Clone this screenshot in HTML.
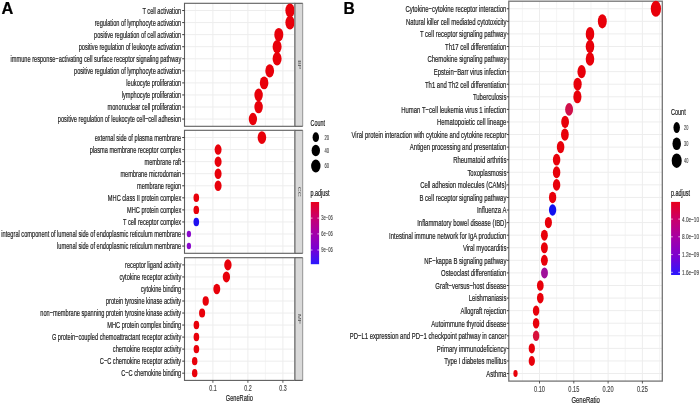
<!DOCTYPE html>
<html><head><meta charset="utf-8"><style>
html,body{margin:0;padding:0;background:#fff;}
svg{display:block;font-family:"Liberation Sans",sans-serif;will-change:transform;}
</style></head><body>
<svg width="699" height="406" viewBox="0 0 699 406">
<rect x="0" y="0" width="699" height="406" fill="#ffffff"/>
<rect x="184.50" y="3.30" width="110.10" height="123.00" fill="#ffffff" stroke="none" stroke-width="0"/>
<line x1="195.40" y1="3.30" x2="195.40" y2="126.30" stroke="#ededed" stroke-width="0.6"/>
<line x1="230.40" y1="3.30" x2="230.40" y2="126.30" stroke="#ededed" stroke-width="0.6"/>
<line x1="265.40" y1="3.30" x2="265.40" y2="126.30" stroke="#ededed" stroke-width="0.6"/>
<line x1="212.90" y1="3.30" x2="212.90" y2="126.30" stroke="#ededed" stroke-width="1.0"/>
<line x1="247.90" y1="3.30" x2="247.90" y2="126.30" stroke="#ededed" stroke-width="1.0"/>
<line x1="282.90" y1="3.30" x2="282.90" y2="126.30" stroke="#ededed" stroke-width="1.0"/>
<line x1="184.50" y1="10.54" x2="294.60" y2="10.54" stroke="#ededed" stroke-width="1.0"/>
<line x1="184.50" y1="22.59" x2="294.60" y2="22.59" stroke="#ededed" stroke-width="1.0"/>
<line x1="184.50" y1="34.65" x2="294.60" y2="34.65" stroke="#ededed" stroke-width="1.0"/>
<line x1="184.50" y1="46.71" x2="294.60" y2="46.71" stroke="#ededed" stroke-width="1.0"/>
<line x1="184.50" y1="58.77" x2="294.60" y2="58.77" stroke="#ededed" stroke-width="1.0"/>
<line x1="184.50" y1="70.83" x2="294.60" y2="70.83" stroke="#ededed" stroke-width="1.0"/>
<line x1="184.50" y1="82.89" x2="294.60" y2="82.89" stroke="#ededed" stroke-width="1.0"/>
<line x1="184.50" y1="94.95" x2="294.60" y2="94.95" stroke="#ededed" stroke-width="1.0"/>
<line x1="184.50" y1="107.01" x2="294.60" y2="107.01" stroke="#ededed" stroke-width="1.0"/>
<line x1="184.50" y1="119.06" x2="294.60" y2="119.06" stroke="#ededed" stroke-width="1.0"/>
<rect x="184.50" y="3.30" width="110.10" height="123.00" fill="none" stroke="#5e5e5e" stroke-width="1.1"/>
<ellipse cx="290.00" cy="10.54" rx="4.65" ry="6.98" fill="#e8000a"/>
<ellipse cx="290.00" cy="22.59" rx="4.65" ry="6.98" fill="#e8000a"/>
<ellipse cx="278.80" cy="34.65" rx="4.51" ry="6.76" fill="#e8000a"/>
<ellipse cx="277.10" cy="46.71" rx="4.49" ry="6.73" fill="#e8000a"/>
<ellipse cx="277.10" cy="58.77" rx="4.49" ry="6.73" fill="#e8000a"/>
<ellipse cx="269.70" cy="70.83" rx="4.39" ry="6.58" fill="#e8000a"/>
<ellipse cx="264.10" cy="82.89" rx="4.31" ry="6.46" fill="#e8000a"/>
<ellipse cx="258.60" cy="94.95" rx="4.23" ry="6.34" fill="#e8000a"/>
<ellipse cx="258.60" cy="107.01" rx="4.23" ry="6.34" fill="#e8000a"/>
<ellipse cx="252.90" cy="119.06" rx="4.14" ry="6.21" fill="#e8000a"/>
<rect x="294.60" y="3.30" width="8.10" height="123.00" fill="#d9d9d9" stroke="none" stroke-width="0"/>
<line x1="295.10" y1="3.30" x2="295.10" y2="126.30" stroke="#7a7a7a" stroke-width="1.0"/>
<line x1="302.70" y1="3.30" x2="302.70" y2="126.30" stroke="#8a8a8a" stroke-width="0.9"/>
<line x1="294.60" y1="3.30" x2="302.70" y2="3.30" stroke="#555555" stroke-width="1.1"/>
<line x1="294.60" y1="126.30" x2="302.70" y2="126.30" stroke="#555555" stroke-width="1.1"/>
<text transform="translate(299.10,64.80) scale(0.62,1) rotate(90)" font-size="7" text-anchor="middle" dominant-baseline="central" fill="#4a4a4a">BP</text>
<line x1="182.20" y1="10.54" x2="184.50" y2="10.54" stroke="#3a3a3a" stroke-width="1.0"/>
<text transform="translate(181.20,13.77) scale(0.6,1)" font-size="9.4" text-anchor="end" fill="#1e1e1e" stroke="#1e1e1e" stroke-width="0.22" font-weight="normal" >T cell activation</text>
<line x1="182.20" y1="22.59" x2="184.50" y2="22.59" stroke="#3a3a3a" stroke-width="1.0"/>
<text transform="translate(181.20,25.83) scale(0.6,1)" font-size="9.4" text-anchor="end" fill="#1e1e1e" stroke="#1e1e1e" stroke-width="0.22" font-weight="normal" >regulation of lymphocyte activation</text>
<line x1="182.20" y1="34.65" x2="184.50" y2="34.65" stroke="#3a3a3a" stroke-width="1.0"/>
<text transform="translate(181.20,37.89) scale(0.6,1)" font-size="9.4" text-anchor="end" fill="#1e1e1e" stroke="#1e1e1e" stroke-width="0.22" font-weight="normal" >positive regulation of cell activation</text>
<line x1="182.20" y1="46.71" x2="184.50" y2="46.71" stroke="#3a3a3a" stroke-width="1.0"/>
<text transform="translate(181.20,49.95) scale(0.6,1)" font-size="9.4" text-anchor="end" fill="#1e1e1e" stroke="#1e1e1e" stroke-width="0.22" font-weight="normal" >positive regulation of leukocyte activation</text>
<line x1="182.20" y1="58.77" x2="184.50" y2="58.77" stroke="#3a3a3a" stroke-width="1.0"/>
<text transform="translate(181.20,62.00) scale(0.6,1)" font-size="9.4" text-anchor="end" fill="#1e1e1e" stroke="#1e1e1e" stroke-width="0.22" font-weight="normal" >immune response−activating cell surface receptor signaling pathway</text>
<line x1="182.20" y1="70.83" x2="184.50" y2="70.83" stroke="#3a3a3a" stroke-width="1.0"/>
<text transform="translate(181.20,74.06) scale(0.6,1)" font-size="9.4" text-anchor="end" fill="#1e1e1e" stroke="#1e1e1e" stroke-width="0.22" font-weight="normal" >positive regulation of lymphocyte activation</text>
<line x1="182.20" y1="82.89" x2="184.50" y2="82.89" stroke="#3a3a3a" stroke-width="1.0"/>
<text transform="translate(181.20,86.12) scale(0.6,1)" font-size="9.4" text-anchor="end" fill="#1e1e1e" stroke="#1e1e1e" stroke-width="0.22" font-weight="normal" >leukocyte proliferation</text>
<line x1="182.20" y1="94.95" x2="184.50" y2="94.95" stroke="#3a3a3a" stroke-width="1.0"/>
<text transform="translate(181.20,98.18) scale(0.6,1)" font-size="9.4" text-anchor="end" fill="#1e1e1e" stroke="#1e1e1e" stroke-width="0.22" font-weight="normal" >lymphocyte proliferation</text>
<line x1="182.20" y1="107.01" x2="184.50" y2="107.01" stroke="#3a3a3a" stroke-width="1.0"/>
<text transform="translate(181.20,110.24) scale(0.6,1)" font-size="9.4" text-anchor="end" fill="#1e1e1e" stroke="#1e1e1e" stroke-width="0.22" font-weight="normal" >mononuclear cell proliferation</text>
<line x1="182.20" y1="119.06" x2="184.50" y2="119.06" stroke="#3a3a3a" stroke-width="1.0"/>
<text transform="translate(181.20,122.30) scale(0.6,1)" font-size="9.4" text-anchor="end" fill="#1e1e1e" stroke="#1e1e1e" stroke-width="0.22" font-weight="normal" >positive regulation of leukocyte cell−cell adhesion</text>
<rect x="184.50" y="130.30" width="110.10" height="123.00" fill="#ffffff" stroke="none" stroke-width="0"/>
<line x1="195.40" y1="130.30" x2="195.40" y2="253.30" stroke="#ededed" stroke-width="0.6"/>
<line x1="230.40" y1="130.30" x2="230.40" y2="253.30" stroke="#ededed" stroke-width="0.6"/>
<line x1="265.40" y1="130.30" x2="265.40" y2="253.30" stroke="#ededed" stroke-width="0.6"/>
<line x1="212.90" y1="130.30" x2="212.90" y2="253.30" stroke="#ededed" stroke-width="1.0"/>
<line x1="247.90" y1="130.30" x2="247.90" y2="253.30" stroke="#ededed" stroke-width="1.0"/>
<line x1="282.90" y1="130.30" x2="282.90" y2="253.30" stroke="#ededed" stroke-width="1.0"/>
<line x1="184.50" y1="137.54" x2="294.60" y2="137.54" stroke="#ededed" stroke-width="1.0"/>
<line x1="184.50" y1="149.59" x2="294.60" y2="149.59" stroke="#ededed" stroke-width="1.0"/>
<line x1="184.50" y1="161.65" x2="294.60" y2="161.65" stroke="#ededed" stroke-width="1.0"/>
<line x1="184.50" y1="173.71" x2="294.60" y2="173.71" stroke="#ededed" stroke-width="1.0"/>
<line x1="184.50" y1="185.77" x2="294.60" y2="185.77" stroke="#ededed" stroke-width="1.0"/>
<line x1="184.50" y1="197.83" x2="294.60" y2="197.83" stroke="#ededed" stroke-width="1.0"/>
<line x1="184.50" y1="209.89" x2="294.60" y2="209.89" stroke="#ededed" stroke-width="1.0"/>
<line x1="184.50" y1="221.95" x2="294.60" y2="221.95" stroke="#ededed" stroke-width="1.0"/>
<line x1="184.50" y1="234.01" x2="294.60" y2="234.01" stroke="#ededed" stroke-width="1.0"/>
<line x1="184.50" y1="246.06" x2="294.60" y2="246.06" stroke="#ededed" stroke-width="1.0"/>
<rect x="184.50" y="130.30" width="110.10" height="123.00" fill="none" stroke="#5e5e5e" stroke-width="1.1"/>
<ellipse cx="261.90" cy="137.54" rx="4.27" ry="6.41" fill="#e8000a"/>
<ellipse cx="218.10" cy="149.59" rx="3.49" ry="5.24" fill="#e8000a"/>
<ellipse cx="218.10" cy="161.65" rx="3.49" ry="5.24" fill="#e8000a"/>
<ellipse cx="218.10" cy="173.71" rx="3.49" ry="5.24" fill="#e8000a"/>
<ellipse cx="218.10" cy="185.77" rx="3.49" ry="5.24" fill="#e8000a"/>
<ellipse cx="196.30" cy="197.83" rx="2.82" ry="4.23" fill="#e8000a"/>
<ellipse cx="196.30" cy="209.89" rx="2.82" ry="4.23" fill="#e8000a"/>
<ellipse cx="196.30" cy="221.95" rx="2.82" ry="4.23" fill="#1f10f0"/>
<ellipse cx="188.90" cy="234.01" rx="2.15" ry="3.22" fill="#8a08cc"/>
<ellipse cx="188.90" cy="246.06" rx="2.15" ry="3.22" fill="#8a08cc"/>
<rect x="294.60" y="130.30" width="8.10" height="123.00" fill="#d9d9d9" stroke="none" stroke-width="0"/>
<line x1="295.10" y1="130.30" x2="295.10" y2="253.30" stroke="#7a7a7a" stroke-width="1.0"/>
<line x1="302.70" y1="130.30" x2="302.70" y2="253.30" stroke="#8a8a8a" stroke-width="0.9"/>
<line x1="294.60" y1="130.30" x2="302.70" y2="130.30" stroke="#555555" stroke-width="1.1"/>
<line x1="294.60" y1="253.30" x2="302.70" y2="253.30" stroke="#555555" stroke-width="1.1"/>
<text transform="translate(299.10,191.80) scale(0.62,1) rotate(90)" font-size="7" text-anchor="middle" dominant-baseline="central" fill="#4a4a4a">CC</text>
<line x1="182.20" y1="137.54" x2="184.50" y2="137.54" stroke="#3a3a3a" stroke-width="1.0"/>
<text transform="translate(181.20,140.77) scale(0.6,1)" font-size="9.4" text-anchor="end" fill="#1e1e1e" stroke="#1e1e1e" stroke-width="0.22" font-weight="normal" >external side of plasma membrane</text>
<line x1="182.20" y1="149.59" x2="184.50" y2="149.59" stroke="#3a3a3a" stroke-width="1.0"/>
<text transform="translate(181.20,152.83) scale(0.6,1)" font-size="9.4" text-anchor="end" fill="#1e1e1e" stroke="#1e1e1e" stroke-width="0.22" font-weight="normal" >plasma membrane receptor complex</text>
<line x1="182.20" y1="161.65" x2="184.50" y2="161.65" stroke="#3a3a3a" stroke-width="1.0"/>
<text transform="translate(181.20,164.89) scale(0.6,1)" font-size="9.4" text-anchor="end" fill="#1e1e1e" stroke="#1e1e1e" stroke-width="0.22" font-weight="normal" >membrane raft</text>
<line x1="182.20" y1="173.71" x2="184.50" y2="173.71" stroke="#3a3a3a" stroke-width="1.0"/>
<text transform="translate(181.20,176.95) scale(0.6,1)" font-size="9.4" text-anchor="end" fill="#1e1e1e" stroke="#1e1e1e" stroke-width="0.22" font-weight="normal" >membrane microdomain</text>
<line x1="182.20" y1="185.77" x2="184.50" y2="185.77" stroke="#3a3a3a" stroke-width="1.0"/>
<text transform="translate(181.20,189.00) scale(0.6,1)" font-size="9.4" text-anchor="end" fill="#1e1e1e" stroke="#1e1e1e" stroke-width="0.22" font-weight="normal" >membrane region</text>
<line x1="182.20" y1="197.83" x2="184.50" y2="197.83" stroke="#3a3a3a" stroke-width="1.0"/>
<text transform="translate(181.20,201.06) scale(0.6,1)" font-size="9.4" text-anchor="end" fill="#1e1e1e" stroke="#1e1e1e" stroke-width="0.22" font-weight="normal" >MHC class II protein complex</text>
<line x1="182.20" y1="209.89" x2="184.50" y2="209.89" stroke="#3a3a3a" stroke-width="1.0"/>
<text transform="translate(181.20,213.12) scale(0.6,1)" font-size="9.4" text-anchor="end" fill="#1e1e1e" stroke="#1e1e1e" stroke-width="0.22" font-weight="normal" >MHC protein complex</text>
<line x1="182.20" y1="221.95" x2="184.50" y2="221.95" stroke="#3a3a3a" stroke-width="1.0"/>
<text transform="translate(181.20,225.18) scale(0.6,1)" font-size="9.4" text-anchor="end" fill="#1e1e1e" stroke="#1e1e1e" stroke-width="0.22" font-weight="normal" >T cell receptor complex</text>
<line x1="182.20" y1="234.01" x2="184.50" y2="234.01" stroke="#3a3a3a" stroke-width="1.0"/>
<text transform="translate(181.20,237.24) scale(0.6,1)" font-size="9.4" text-anchor="end" fill="#1e1e1e" stroke="#1e1e1e" stroke-width="0.22" font-weight="normal" >integral component of lumenal side of endoplasmic reticulum membrane</text>
<line x1="182.20" y1="246.06" x2="184.50" y2="246.06" stroke="#3a3a3a" stroke-width="1.0"/>
<text transform="translate(181.20,249.30) scale(0.6,1)" font-size="9.4" text-anchor="end" fill="#1e1e1e" stroke="#1e1e1e" stroke-width="0.22" font-weight="normal" >lumenal side of endoplasmic reticulum membrane</text>
<rect x="184.50" y="257.70" width="110.10" height="122.70" fill="#ffffff" stroke="none" stroke-width="0"/>
<line x1="195.40" y1="257.70" x2="195.40" y2="380.40" stroke="#ededed" stroke-width="0.6"/>
<line x1="230.40" y1="257.70" x2="230.40" y2="380.40" stroke="#ededed" stroke-width="0.6"/>
<line x1="265.40" y1="257.70" x2="265.40" y2="380.40" stroke="#ededed" stroke-width="0.6"/>
<line x1="212.90" y1="257.70" x2="212.90" y2="380.40" stroke="#ededed" stroke-width="1.0"/>
<line x1="247.90" y1="257.70" x2="247.90" y2="380.40" stroke="#ededed" stroke-width="1.0"/>
<line x1="282.90" y1="257.70" x2="282.90" y2="380.40" stroke="#ededed" stroke-width="1.0"/>
<line x1="184.50" y1="264.92" x2="294.60" y2="264.92" stroke="#ededed" stroke-width="1.0"/>
<line x1="184.50" y1="276.95" x2="294.60" y2="276.95" stroke="#ededed" stroke-width="1.0"/>
<line x1="184.50" y1="288.98" x2="294.60" y2="288.98" stroke="#ededed" stroke-width="1.0"/>
<line x1="184.50" y1="301.01" x2="294.60" y2="301.01" stroke="#ededed" stroke-width="1.0"/>
<line x1="184.50" y1="313.04" x2="294.60" y2="313.04" stroke="#ededed" stroke-width="1.0"/>
<line x1="184.50" y1="325.06" x2="294.60" y2="325.06" stroke="#ededed" stroke-width="1.0"/>
<line x1="184.50" y1="337.09" x2="294.60" y2="337.09" stroke="#ededed" stroke-width="1.0"/>
<line x1="184.50" y1="349.12" x2="294.60" y2="349.12" stroke="#ededed" stroke-width="1.0"/>
<line x1="184.50" y1="361.15" x2="294.60" y2="361.15" stroke="#ededed" stroke-width="1.0"/>
<line x1="184.50" y1="373.18" x2="294.60" y2="373.18" stroke="#ededed" stroke-width="1.0"/>
<rect x="184.50" y="257.70" width="110.10" height="122.70" fill="none" stroke="#5e5e5e" stroke-width="1.1"/>
<ellipse cx="227.90" cy="264.92" rx="3.70" ry="5.55" fill="#e8000a"/>
<ellipse cx="226.40" cy="276.95" rx="3.67" ry="5.51" fill="#e8000a"/>
<ellipse cx="216.80" cy="288.98" rx="3.46" ry="5.19" fill="#e8000a"/>
<ellipse cx="205.70" cy="301.01" rx="3.16" ry="4.75" fill="#e8000a"/>
<ellipse cx="202.10" cy="313.04" rx="3.05" ry="4.57" fill="#e8000a"/>
<ellipse cx="196.40" cy="325.06" rx="2.82" ry="4.23" fill="#e8000a"/>
<ellipse cx="196.40" cy="337.09" rx="2.82" ry="4.23" fill="#e8000a"/>
<ellipse cx="196.40" cy="349.12" rx="2.82" ry="4.23" fill="#e8000a"/>
<ellipse cx="194.70" cy="361.15" rx="2.74" ry="4.11" fill="#e8000a"/>
<ellipse cx="194.70" cy="373.18" rx="2.74" ry="4.11" fill="#e8000a"/>
<rect x="294.60" y="257.70" width="8.10" height="122.70" fill="#d9d9d9" stroke="none" stroke-width="0"/>
<line x1="295.10" y1="257.70" x2="295.10" y2="380.40" stroke="#7a7a7a" stroke-width="1.0"/>
<line x1="302.70" y1="257.70" x2="302.70" y2="380.40" stroke="#8a8a8a" stroke-width="0.9"/>
<line x1="294.60" y1="257.70" x2="302.70" y2="257.70" stroke="#555555" stroke-width="1.1"/>
<line x1="294.60" y1="380.40" x2="302.70" y2="380.40" stroke="#555555" stroke-width="1.1"/>
<text transform="translate(299.10,319.05) scale(0.62,1) rotate(90)" font-size="7" text-anchor="middle" dominant-baseline="central" fill="#4a4a4a">MF</text>
<line x1="182.20" y1="264.92" x2="184.50" y2="264.92" stroke="#3a3a3a" stroke-width="1.0"/>
<text transform="translate(181.20,268.15) scale(0.6,1)" font-size="9.4" text-anchor="end" fill="#1e1e1e" stroke="#1e1e1e" stroke-width="0.22" font-weight="normal" >receptor ligand activity</text>
<line x1="182.20" y1="276.95" x2="184.50" y2="276.95" stroke="#3a3a3a" stroke-width="1.0"/>
<text transform="translate(181.20,280.18) scale(0.6,1)" font-size="9.4" text-anchor="end" fill="#1e1e1e" stroke="#1e1e1e" stroke-width="0.22" font-weight="normal" >cytokine receptor activity</text>
<line x1="182.20" y1="288.98" x2="184.50" y2="288.98" stroke="#3a3a3a" stroke-width="1.0"/>
<text transform="translate(181.20,292.21) scale(0.6,1)" font-size="9.4" text-anchor="end" fill="#1e1e1e" stroke="#1e1e1e" stroke-width="0.22" font-weight="normal" >cytokine binding</text>
<line x1="182.20" y1="301.01" x2="184.50" y2="301.01" stroke="#3a3a3a" stroke-width="1.0"/>
<text transform="translate(181.20,304.24) scale(0.6,1)" font-size="9.4" text-anchor="end" fill="#1e1e1e" stroke="#1e1e1e" stroke-width="0.22" font-weight="normal" >protein tyrosine kinase activity</text>
<line x1="182.20" y1="313.04" x2="184.50" y2="313.04" stroke="#3a3a3a" stroke-width="1.0"/>
<text transform="translate(181.20,316.27) scale(0.6,1)" font-size="9.4" text-anchor="end" fill="#1e1e1e" stroke="#1e1e1e" stroke-width="0.22" font-weight="normal" >non−membrane spanning protein tyrosine kinase activity</text>
<line x1="182.20" y1="325.06" x2="184.50" y2="325.06" stroke="#3a3a3a" stroke-width="1.0"/>
<text transform="translate(181.20,328.30) scale(0.6,1)" font-size="9.4" text-anchor="end" fill="#1e1e1e" stroke="#1e1e1e" stroke-width="0.22" font-weight="normal" >MHC protein complex binding</text>
<line x1="182.20" y1="337.09" x2="184.50" y2="337.09" stroke="#3a3a3a" stroke-width="1.0"/>
<text transform="translate(181.20,340.33) scale(0.6,1)" font-size="9.4" text-anchor="end" fill="#1e1e1e" stroke="#1e1e1e" stroke-width="0.22" font-weight="normal" >G protein−coupled chemoattractant receptor activity</text>
<line x1="182.20" y1="349.12" x2="184.50" y2="349.12" stroke="#3a3a3a" stroke-width="1.0"/>
<text transform="translate(181.20,352.36) scale(0.6,1)" font-size="9.4" text-anchor="end" fill="#1e1e1e" stroke="#1e1e1e" stroke-width="0.22" font-weight="normal" >chemokine receptor activity</text>
<line x1="182.20" y1="361.15" x2="184.50" y2="361.15" stroke="#3a3a3a" stroke-width="1.0"/>
<text transform="translate(181.20,364.39) scale(0.6,1)" font-size="9.4" text-anchor="end" fill="#1e1e1e" stroke="#1e1e1e" stroke-width="0.22" font-weight="normal" >C−C chemokine receptor activity</text>
<line x1="182.20" y1="373.18" x2="184.50" y2="373.18" stroke="#3a3a3a" stroke-width="1.0"/>
<text transform="translate(181.20,376.42) scale(0.6,1)" font-size="9.4" text-anchor="end" fill="#1e1e1e" stroke="#1e1e1e" stroke-width="0.22" font-weight="normal" >C−C chemokine binding</text>
<line x1="212.90" y1="380.40" x2="212.90" y2="382.80" stroke="#333333" stroke-width="0.8"/>
<text transform="translate(212.90,390.60) scale(0.62,1)" font-size="8.6" text-anchor="middle" fill="#444444" stroke="#444444" stroke-width="0.15" font-weight="normal" >0.1</text>
<line x1="247.90" y1="380.40" x2="247.90" y2="382.80" stroke="#333333" stroke-width="0.8"/>
<text transform="translate(247.90,390.60) scale(0.62,1)" font-size="8.6" text-anchor="middle" fill="#444444" stroke="#444444" stroke-width="0.15" font-weight="normal" >0.2</text>
<line x1="282.90" y1="380.40" x2="282.90" y2="382.80" stroke="#333333" stroke-width="0.8"/>
<text transform="translate(282.90,390.60) scale(0.62,1)" font-size="8.6" text-anchor="middle" fill="#444444" stroke="#444444" stroke-width="0.15" font-weight="normal" >0.3</text>
<text transform="translate(239.30,400.70) scale(0.6,1)" font-size="9.4" text-anchor="middle" fill="#1e1e1e" stroke="#1e1e1e" stroke-width="0.22" font-weight="normal" >GeneRatio</text>
<text transform="translate(1.60,13.70) scale(1.02,1)" font-size="16" text-anchor="start" fill="#000000" stroke="#000000" stroke-width="0.22" font-weight="bold" >A</text>
<text transform="translate(310.60,125.90) scale(0.61,1)" font-size="8.8" text-anchor="start" fill="#1a1a1a" stroke="#1a1a1a" stroke-width="0.22" font-weight="normal" >Count</text>
<ellipse cx="315.80" cy="137.20" rx="3.20" ry="4.90" fill="#000000"/>
<text transform="translate(324.40,139.54) scale(0.6,1)" font-size="6.8" text-anchor="start" fill="#3c3c3c" stroke="#3c3c3c" stroke-width="0.12" font-weight="normal" >20</text>
<ellipse cx="315.80" cy="150.50" rx="4.20" ry="5.75" fill="#000000"/>
<text transform="translate(324.40,152.84) scale(0.6,1)" font-size="6.8" text-anchor="start" fill="#3c3c3c" stroke="#3c3c3c" stroke-width="0.12" font-weight="normal" >40</text>
<ellipse cx="315.80" cy="166.00" rx="4.70" ry="6.50" fill="#000000"/>
<text transform="translate(324.40,168.34) scale(0.6,1)" font-size="6.8" text-anchor="start" fill="#3c3c3c" stroke="#3c3c3c" stroke-width="0.12" font-weight="normal" >60</text>
<text transform="translate(310.60,195.50) scale(0.64,1)" font-size="8.4" text-anchor="start" fill="#1a1a1a" stroke="#1a1a1a" stroke-width="0.22" font-weight="normal" >p.adjust</text>
<defs><linearGradient id="gA" x1="0" y1="0" x2="0" y2="1"><stop offset="0" stop-color="#e8001c"/><stop offset="0.25" stop-color="#c8006e"/><stop offset="0.5" stop-color="#a400a8"/><stop offset="0.75" stop-color="#7a00d2"/><stop offset="1" stop-color="#2a18ff"/></linearGradient><linearGradient id="gB" x1="0" y1="0" x2="0" y2="1"><stop offset="0" stop-color="#e8001c"/><stop offset="0.25" stop-color="#c8006e"/><stop offset="0.5" stop-color="#a400a8"/><stop offset="0.75" stop-color="#7a00d2"/><stop offset="1" stop-color="#2a18ff"/></linearGradient></defs>
<rect x="310.80" y="202.00" width="8.30" height="62.20" fill="url(#gA)" stroke="none" stroke-width="0"/>
<line x1="310.80" y1="218.10" x2="312.50" y2="218.10" stroke="#ffffff" stroke-width="0.7"/>
<line x1="317.40" y1="218.10" x2="319.10" y2="218.10" stroke="#ffffff" stroke-width="0.7"/>
<text transform="translate(321.30,220.44) scale(0.6,1)" font-size="6.8" text-anchor="start" fill="#3c3c3c" stroke="#3c3c3c" stroke-width="0.12" font-weight="normal" >3e−06</text>
<line x1="310.80" y1="233.90" x2="312.50" y2="233.90" stroke="#ffffff" stroke-width="0.7"/>
<line x1="317.40" y1="233.90" x2="319.10" y2="233.90" stroke="#ffffff" stroke-width="0.7"/>
<text transform="translate(321.30,236.24) scale(0.6,1)" font-size="6.8" text-anchor="start" fill="#3c3c3c" stroke="#3c3c3c" stroke-width="0.12" font-weight="normal" >6e−06</text>
<line x1="310.80" y1="250.00" x2="312.50" y2="250.00" stroke="#ffffff" stroke-width="0.7"/>
<line x1="317.40" y1="250.00" x2="319.10" y2="250.00" stroke="#ffffff" stroke-width="0.7"/>
<text transform="translate(321.30,252.34) scale(0.6,1)" font-size="6.8" text-anchor="start" fill="#3c3c3c" stroke="#3c3c3c" stroke-width="0.12" font-weight="normal" >9e−06</text>
<rect x="508.80" y="1.20" width="153.50" height="379.90" fill="#ffffff" stroke="none" stroke-width="0"/>
<line x1="522.35" y1="1.20" x2="522.35" y2="381.10" stroke="#ededed" stroke-width="0.6"/>
<line x1="556.65" y1="1.20" x2="556.65" y2="381.10" stroke="#ededed" stroke-width="0.6"/>
<line x1="590.95" y1="1.20" x2="590.95" y2="381.10" stroke="#ededed" stroke-width="0.6"/>
<line x1="625.25" y1="1.20" x2="625.25" y2="381.10" stroke="#ededed" stroke-width="0.6"/>
<line x1="659.55" y1="1.20" x2="659.55" y2="381.10" stroke="#ededed" stroke-width="0.6"/>
<line x1="539.50" y1="1.20" x2="539.50" y2="381.10" stroke="#ededed" stroke-width="1.0"/>
<line x1="573.80" y1="1.20" x2="573.80" y2="381.10" stroke="#ededed" stroke-width="1.0"/>
<line x1="608.10" y1="1.20" x2="608.10" y2="381.10" stroke="#ededed" stroke-width="1.0"/>
<line x1="642.40" y1="1.20" x2="642.40" y2="381.10" stroke="#ededed" stroke-width="1.0"/>
<line x1="508.80" y1="8.75" x2="662.30" y2="8.75" stroke="#ededed" stroke-width="1.0"/>
<line x1="508.80" y1="21.33" x2="662.30" y2="21.33" stroke="#ededed" stroke-width="1.0"/>
<line x1="508.80" y1="33.91" x2="662.30" y2="33.91" stroke="#ededed" stroke-width="1.0"/>
<line x1="508.80" y1="46.49" x2="662.30" y2="46.49" stroke="#ededed" stroke-width="1.0"/>
<line x1="508.80" y1="59.07" x2="662.30" y2="59.07" stroke="#ededed" stroke-width="1.0"/>
<line x1="508.80" y1="71.65" x2="662.30" y2="71.65" stroke="#ededed" stroke-width="1.0"/>
<line x1="508.80" y1="84.22" x2="662.30" y2="84.22" stroke="#ededed" stroke-width="1.0"/>
<line x1="508.80" y1="96.80" x2="662.30" y2="96.80" stroke="#ededed" stroke-width="1.0"/>
<line x1="508.80" y1="109.38" x2="662.30" y2="109.38" stroke="#ededed" stroke-width="1.0"/>
<line x1="508.80" y1="121.96" x2="662.30" y2="121.96" stroke="#ededed" stroke-width="1.0"/>
<line x1="508.80" y1="134.54" x2="662.30" y2="134.54" stroke="#ededed" stroke-width="1.0"/>
<line x1="508.80" y1="147.12" x2="662.30" y2="147.12" stroke="#ededed" stroke-width="1.0"/>
<line x1="508.80" y1="159.70" x2="662.30" y2="159.70" stroke="#ededed" stroke-width="1.0"/>
<line x1="508.80" y1="172.28" x2="662.30" y2="172.28" stroke="#ededed" stroke-width="1.0"/>
<line x1="508.80" y1="184.86" x2="662.30" y2="184.86" stroke="#ededed" stroke-width="1.0"/>
<line x1="508.80" y1="197.44" x2="662.30" y2="197.44" stroke="#ededed" stroke-width="1.0"/>
<line x1="508.80" y1="210.02" x2="662.30" y2="210.02" stroke="#ededed" stroke-width="1.0"/>
<line x1="508.80" y1="222.60" x2="662.30" y2="222.60" stroke="#ededed" stroke-width="1.0"/>
<line x1="508.80" y1="235.18" x2="662.30" y2="235.18" stroke="#ededed" stroke-width="1.0"/>
<line x1="508.80" y1="247.76" x2="662.30" y2="247.76" stroke="#ededed" stroke-width="1.0"/>
<line x1="508.80" y1="260.34" x2="662.30" y2="260.34" stroke="#ededed" stroke-width="1.0"/>
<line x1="508.80" y1="272.92" x2="662.30" y2="272.92" stroke="#ededed" stroke-width="1.0"/>
<line x1="508.80" y1="285.50" x2="662.30" y2="285.50" stroke="#ededed" stroke-width="1.0"/>
<line x1="508.80" y1="298.08" x2="662.30" y2="298.08" stroke="#ededed" stroke-width="1.0"/>
<line x1="508.80" y1="310.65" x2="662.30" y2="310.65" stroke="#ededed" stroke-width="1.0"/>
<line x1="508.80" y1="323.23" x2="662.30" y2="323.23" stroke="#ededed" stroke-width="1.0"/>
<line x1="508.80" y1="335.81" x2="662.30" y2="335.81" stroke="#ededed" stroke-width="1.0"/>
<line x1="508.80" y1="348.39" x2="662.30" y2="348.39" stroke="#ededed" stroke-width="1.0"/>
<line x1="508.80" y1="360.97" x2="662.30" y2="360.97" stroke="#ededed" stroke-width="1.0"/>
<line x1="508.80" y1="373.55" x2="662.30" y2="373.55" stroke="#ededed" stroke-width="1.0"/>
<rect x="508.80" y="1.20" width="153.50" height="379.90" fill="none" stroke="#757575" stroke-width="1.3"/>
<ellipse cx="655.90" cy="8.75" rx="5.10" ry="8.05" fill="#e8000a"/>
<ellipse cx="602.30" cy="21.33" rx="4.46" ry="7.06" fill="#e8000a"/>
<ellipse cx="590.00" cy="33.91" rx="4.28" ry="6.79" fill="#e8000a"/>
<ellipse cx="590.00" cy="46.49" rx="4.28" ry="6.79" fill="#e8000a"/>
<ellipse cx="590.00" cy="59.07" rx="4.28" ry="6.79" fill="#e8000a"/>
<ellipse cx="581.60" cy="71.65" rx="4.16" ry="6.59" fill="#e8000a"/>
<ellipse cx="577.60" cy="84.22" rx="4.09" ry="6.50" fill="#e8000a"/>
<ellipse cx="577.40" cy="96.80" rx="4.09" ry="6.49" fill="#e8000a"/>
<ellipse cx="569.10" cy="109.38" rx="3.95" ry="6.28" fill="#d0104a"/>
<ellipse cx="565.10" cy="121.96" rx="3.88" ry="6.17" fill="#e8000a"/>
<ellipse cx="564.90" cy="134.54" rx="3.88" ry="6.16" fill="#e8000a"/>
<ellipse cx="560.60" cy="147.12" rx="3.80" ry="6.04" fill="#e8000a"/>
<ellipse cx="556.60" cy="159.70" rx="3.72" ry="5.92" fill="#e8000a"/>
<ellipse cx="556.60" cy="172.28" rx="3.72" ry="5.92" fill="#e8000a"/>
<ellipse cx="556.60" cy="184.86" rx="3.72" ry="5.92" fill="#e8000a"/>
<ellipse cx="552.60" cy="197.44" rx="3.64" ry="5.79" fill="#e8000a"/>
<ellipse cx="552.60" cy="210.02" rx="3.64" ry="5.79" fill="#1010f0"/>
<ellipse cx="548.40" cy="222.60" rx="3.55" ry="5.65" fill="#e8000a"/>
<ellipse cx="544.40" cy="235.18" rx="3.46" ry="5.51" fill="#e8000a"/>
<ellipse cx="544.40" cy="247.76" rx="3.46" ry="5.51" fill="#e8000a"/>
<ellipse cx="544.40" cy="260.34" rx="3.46" ry="5.51" fill="#e8000a"/>
<ellipse cx="544.50" cy="272.92" rx="3.46" ry="5.52" fill="#a0109a"/>
<ellipse cx="540.30" cy="285.50" rx="3.36" ry="5.36" fill="#e8000a"/>
<ellipse cx="540.30" cy="298.08" rx="3.36" ry="5.36" fill="#e8000a"/>
<ellipse cx="536.10" cy="310.65" rx="3.25" ry="5.19" fill="#e8000a"/>
<ellipse cx="536.10" cy="323.23" rx="3.25" ry="5.19" fill="#e8000a"/>
<ellipse cx="536.10" cy="335.81" rx="3.25" ry="5.19" fill="#d8103a"/>
<ellipse cx="531.80" cy="348.39" rx="3.12" ry="4.99" fill="#e8000a"/>
<ellipse cx="531.80" cy="360.97" rx="3.12" ry="4.99" fill="#e8000a"/>
<ellipse cx="515.50" cy="373.55" rx="2.13" ry="3.44" fill="#e8000a"/>
<line x1="506.80" y1="8.75" x2="508.80" y2="8.75" stroke="#3a3a3a" stroke-width="1.0"/>
<text transform="translate(506.40,12.12) scale(0.608,1)" font-size="9.8" text-anchor="end" fill="#1e1e1e" stroke="#1e1e1e" stroke-width="0.22" font-weight="normal" >Cytokine−cytokine receptor interaction</text>
<line x1="506.80" y1="21.33" x2="508.80" y2="21.33" stroke="#3a3a3a" stroke-width="1.0"/>
<text transform="translate(506.40,24.70) scale(0.608,1)" font-size="9.8" text-anchor="end" fill="#1e1e1e" stroke="#1e1e1e" stroke-width="0.22" font-weight="normal" >Natural killer cell mediated cytotoxicity</text>
<line x1="506.80" y1="33.91" x2="508.80" y2="33.91" stroke="#3a3a3a" stroke-width="1.0"/>
<text transform="translate(506.40,37.28) scale(0.608,1)" font-size="9.8" text-anchor="end" fill="#1e1e1e" stroke="#1e1e1e" stroke-width="0.22" font-weight="normal" >T cell receptor signaling pathway</text>
<line x1="506.80" y1="46.49" x2="508.80" y2="46.49" stroke="#3a3a3a" stroke-width="1.0"/>
<text transform="translate(506.40,49.86) scale(0.608,1)" font-size="9.8" text-anchor="end" fill="#1e1e1e" stroke="#1e1e1e" stroke-width="0.22" font-weight="normal" >Th17 cell differentiation</text>
<line x1="506.80" y1="59.07" x2="508.80" y2="59.07" stroke="#3a3a3a" stroke-width="1.0"/>
<text transform="translate(506.40,62.44) scale(0.608,1)" font-size="9.8" text-anchor="end" fill="#1e1e1e" stroke="#1e1e1e" stroke-width="0.22" font-weight="normal" >Chemokine signaling pathway</text>
<line x1="506.80" y1="71.65" x2="508.80" y2="71.65" stroke="#3a3a3a" stroke-width="1.0"/>
<text transform="translate(506.40,75.02) scale(0.608,1)" font-size="9.8" text-anchor="end" fill="#1e1e1e" stroke="#1e1e1e" stroke-width="0.22" font-weight="normal" >Epstein−Barr virus infection</text>
<line x1="506.80" y1="84.22" x2="508.80" y2="84.22" stroke="#3a3a3a" stroke-width="1.0"/>
<text transform="translate(506.40,87.60) scale(0.608,1)" font-size="9.8" text-anchor="end" fill="#1e1e1e" stroke="#1e1e1e" stroke-width="0.22" font-weight="normal" >Th1 and Th2 cell differentiation</text>
<line x1="506.80" y1="96.80" x2="508.80" y2="96.80" stroke="#3a3a3a" stroke-width="1.0"/>
<text transform="translate(506.40,100.18) scale(0.608,1)" font-size="9.8" text-anchor="end" fill="#1e1e1e" stroke="#1e1e1e" stroke-width="0.22" font-weight="normal" >Tuberculosis</text>
<line x1="506.80" y1="109.38" x2="508.80" y2="109.38" stroke="#3a3a3a" stroke-width="1.0"/>
<text transform="translate(506.40,112.75) scale(0.608,1)" font-size="9.8" text-anchor="end" fill="#1e1e1e" stroke="#1e1e1e" stroke-width="0.22" font-weight="normal" >Human T−cell leukemia virus 1 infection</text>
<line x1="506.80" y1="121.96" x2="508.80" y2="121.96" stroke="#3a3a3a" stroke-width="1.0"/>
<text transform="translate(506.40,125.33) scale(0.608,1)" font-size="9.8" text-anchor="end" fill="#1e1e1e" stroke="#1e1e1e" stroke-width="0.22" font-weight="normal" >Hematopoietic cell lineage</text>
<line x1="506.80" y1="134.54" x2="508.80" y2="134.54" stroke="#3a3a3a" stroke-width="1.0"/>
<text transform="translate(506.40,137.91) scale(0.608,1)" font-size="9.8" text-anchor="end" fill="#1e1e1e" stroke="#1e1e1e" stroke-width="0.22" font-weight="normal" >Viral protein interaction with cytokine and cytokine receptor</text>
<line x1="506.80" y1="147.12" x2="508.80" y2="147.12" stroke="#3a3a3a" stroke-width="1.0"/>
<text transform="translate(506.40,150.49) scale(0.608,1)" font-size="9.8" text-anchor="end" fill="#1e1e1e" stroke="#1e1e1e" stroke-width="0.22" font-weight="normal" >Antigen processing and presentation</text>
<line x1="506.80" y1="159.70" x2="508.80" y2="159.70" stroke="#3a3a3a" stroke-width="1.0"/>
<text transform="translate(506.40,163.07) scale(0.608,1)" font-size="9.8" text-anchor="end" fill="#1e1e1e" stroke="#1e1e1e" stroke-width="0.22" font-weight="normal" >Rheumatoid arthritis</text>
<line x1="506.80" y1="172.28" x2="508.80" y2="172.28" stroke="#3a3a3a" stroke-width="1.0"/>
<text transform="translate(506.40,175.65) scale(0.608,1)" font-size="9.8" text-anchor="end" fill="#1e1e1e" stroke="#1e1e1e" stroke-width="0.22" font-weight="normal" >Toxoplasmosis</text>
<line x1="506.80" y1="184.86" x2="508.80" y2="184.86" stroke="#3a3a3a" stroke-width="1.0"/>
<text transform="translate(506.40,188.23) scale(0.608,1)" font-size="9.8" text-anchor="end" fill="#1e1e1e" stroke="#1e1e1e" stroke-width="0.22" font-weight="normal" >Cell adhesion molecules (CAMs)</text>
<line x1="506.80" y1="197.44" x2="508.80" y2="197.44" stroke="#3a3a3a" stroke-width="1.0"/>
<text transform="translate(506.40,200.81) scale(0.608,1)" font-size="9.8" text-anchor="end" fill="#1e1e1e" stroke="#1e1e1e" stroke-width="0.22" font-weight="normal" >B cell receptor signaling pathway</text>
<line x1="506.80" y1="210.02" x2="508.80" y2="210.02" stroke="#3a3a3a" stroke-width="1.0"/>
<text transform="translate(506.40,213.39) scale(0.608,1)" font-size="9.8" text-anchor="end" fill="#1e1e1e" stroke="#1e1e1e" stroke-width="0.22" font-weight="normal" >Influenza A</text>
<line x1="506.80" y1="222.60" x2="508.80" y2="222.60" stroke="#3a3a3a" stroke-width="1.0"/>
<text transform="translate(506.40,225.97) scale(0.608,1)" font-size="9.8" text-anchor="end" fill="#1e1e1e" stroke="#1e1e1e" stroke-width="0.22" font-weight="normal" >Inflammatory bowel disease (IBD)</text>
<line x1="506.80" y1="235.18" x2="508.80" y2="235.18" stroke="#3a3a3a" stroke-width="1.0"/>
<text transform="translate(506.40,238.55) scale(0.608,1)" font-size="9.8" text-anchor="end" fill="#1e1e1e" stroke="#1e1e1e" stroke-width="0.22" font-weight="normal" >Intestinal immune network for IgA production</text>
<line x1="506.80" y1="247.76" x2="508.80" y2="247.76" stroke="#3a3a3a" stroke-width="1.0"/>
<text transform="translate(506.40,251.13) scale(0.608,1)" font-size="9.8" text-anchor="end" fill="#1e1e1e" stroke="#1e1e1e" stroke-width="0.22" font-weight="normal" >Viral myocarditis</text>
<line x1="506.80" y1="260.34" x2="508.80" y2="260.34" stroke="#3a3a3a" stroke-width="1.0"/>
<text transform="translate(506.40,263.71) scale(0.608,1)" font-size="9.8" text-anchor="end" fill="#1e1e1e" stroke="#1e1e1e" stroke-width="0.22" font-weight="normal" >NF−kappa B signaling pathway</text>
<line x1="506.80" y1="272.92" x2="508.80" y2="272.92" stroke="#3a3a3a" stroke-width="1.0"/>
<text transform="translate(506.40,276.29) scale(0.608,1)" font-size="9.8" text-anchor="end" fill="#1e1e1e" stroke="#1e1e1e" stroke-width="0.22" font-weight="normal" >Osteoclast differentiation</text>
<line x1="506.80" y1="285.50" x2="508.80" y2="285.50" stroke="#3a3a3a" stroke-width="1.0"/>
<text transform="translate(506.40,288.87) scale(0.608,1)" font-size="9.8" text-anchor="end" fill="#1e1e1e" stroke="#1e1e1e" stroke-width="0.22" font-weight="normal" >Graft−versus−host disease</text>
<line x1="506.80" y1="298.08" x2="508.80" y2="298.08" stroke="#3a3a3a" stroke-width="1.0"/>
<text transform="translate(506.40,301.45) scale(0.608,1)" font-size="9.8" text-anchor="end" fill="#1e1e1e" stroke="#1e1e1e" stroke-width="0.22" font-weight="normal" >Leishmaniasis</text>
<line x1="506.80" y1="310.65" x2="508.80" y2="310.65" stroke="#3a3a3a" stroke-width="1.0"/>
<text transform="translate(506.40,314.03) scale(0.608,1)" font-size="9.8" text-anchor="end" fill="#1e1e1e" stroke="#1e1e1e" stroke-width="0.22" font-weight="normal" >Allograft rejection</text>
<line x1="506.80" y1="323.23" x2="508.80" y2="323.23" stroke="#3a3a3a" stroke-width="1.0"/>
<text transform="translate(506.40,326.61) scale(0.608,1)" font-size="9.8" text-anchor="end" fill="#1e1e1e" stroke="#1e1e1e" stroke-width="0.22" font-weight="normal" >Autoimmune thyroid disease</text>
<line x1="506.80" y1="335.81" x2="508.80" y2="335.81" stroke="#3a3a3a" stroke-width="1.0"/>
<text transform="translate(506.40,339.19) scale(0.608,1)" font-size="9.8" text-anchor="end" fill="#1e1e1e" stroke="#1e1e1e" stroke-width="0.22" font-weight="normal" >PD−L1 expression and PD−1 checkpoint pathway in cancer</text>
<line x1="506.80" y1="348.39" x2="508.80" y2="348.39" stroke="#3a3a3a" stroke-width="1.0"/>
<text transform="translate(506.40,351.76) scale(0.608,1)" font-size="9.8" text-anchor="end" fill="#1e1e1e" stroke="#1e1e1e" stroke-width="0.22" font-weight="normal" >Primary immunodeficiency</text>
<line x1="506.80" y1="360.97" x2="508.80" y2="360.97" stroke="#3a3a3a" stroke-width="1.0"/>
<text transform="translate(506.40,364.34) scale(0.608,1)" font-size="9.8" text-anchor="end" fill="#1e1e1e" stroke="#1e1e1e" stroke-width="0.22" font-weight="normal" >Type I diabetes mellitus</text>
<line x1="506.80" y1="373.55" x2="508.80" y2="373.55" stroke="#3a3a3a" stroke-width="1.0"/>
<text transform="translate(506.40,376.92) scale(0.608,1)" font-size="9.8" text-anchor="end" fill="#1e1e1e" stroke="#1e1e1e" stroke-width="0.22" font-weight="normal" >Asthma</text>
<line x1="539.50" y1="381.10" x2="539.50" y2="383.50" stroke="#333333" stroke-width="0.8"/>
<text transform="translate(539.50,392.20) scale(0.6,1)" font-size="9.4" text-anchor="middle" fill="#444444" stroke="#444444" stroke-width="0.15" font-weight="normal" >0.10</text>
<line x1="573.80" y1="381.10" x2="573.80" y2="383.50" stroke="#333333" stroke-width="0.8"/>
<text transform="translate(573.80,392.20) scale(0.6,1)" font-size="9.4" text-anchor="middle" fill="#444444" stroke="#444444" stroke-width="0.15" font-weight="normal" >0.15</text>
<line x1="608.10" y1="381.10" x2="608.10" y2="383.50" stroke="#333333" stroke-width="0.8"/>
<text transform="translate(608.10,392.20) scale(0.6,1)" font-size="9.4" text-anchor="middle" fill="#444444" stroke="#444444" stroke-width="0.15" font-weight="normal" >0.20</text>
<line x1="642.40" y1="381.10" x2="642.40" y2="383.50" stroke="#333333" stroke-width="0.8"/>
<text transform="translate(642.40,392.20) scale(0.6,1)" font-size="9.4" text-anchor="middle" fill="#444444" stroke="#444444" stroke-width="0.15" font-weight="normal" >0.25</text>
<text transform="translate(585.60,402.60) scale(0.62,1)" font-size="9.6" text-anchor="middle" fill="#1e1e1e" stroke="#1e1e1e" stroke-width="0.22" font-weight="normal" >GeneRatio</text>
<text transform="translate(343.50,13.70) scale(1.0,1)" font-size="15.6" text-anchor="start" fill="#000000" stroke="#000000" stroke-width="0.22" font-weight="bold" >B</text>
<text transform="translate(671.00,114.60) scale(0.6,1)" font-size="9.2" text-anchor="start" fill="#1a1a1a" stroke="#1a1a1a" stroke-width="0.22" font-weight="normal" >Count</text>
<ellipse cx="676.70" cy="127.60" rx="3.25" ry="5.50" fill="#000000"/>
<text transform="translate(684.00,130.01) scale(0.55,1)" font-size="7.0" text-anchor="start" fill="#3c3c3c" stroke="#3c3c3c" stroke-width="0.12" font-weight="normal" >20</text>
<ellipse cx="676.70" cy="143.70" rx="4.25" ry="6.30" fill="#000000"/>
<text transform="translate(684.00,146.11) scale(0.55,1)" font-size="7.0" text-anchor="start" fill="#3c3c3c" stroke="#3c3c3c" stroke-width="0.12" font-weight="normal" >30</text>
<ellipse cx="676.70" cy="160.70" rx="5.00" ry="7.30" fill="#000000"/>
<text transform="translate(684.00,163.11) scale(0.55,1)" font-size="7.0" text-anchor="start" fill="#3c3c3c" stroke="#3c3c3c" stroke-width="0.12" font-weight="normal" >40</text>
<text transform="translate(671.00,195.50) scale(0.62,1)" font-size="8.8" text-anchor="start" fill="#1a1a1a" stroke="#1a1a1a" stroke-width="0.22" font-weight="normal" >p.adjust</text>
<rect x="671.10" y="201.90" width="8.90" height="73.10" fill="url(#gB)" stroke="none" stroke-width="0"/>
<line x1="671.10" y1="219.10" x2="672.80" y2="219.10" stroke="#ffffff" stroke-width="0.7"/>
<line x1="678.30" y1="219.10" x2="680.00" y2="219.10" stroke="#ffffff" stroke-width="0.7"/>
<text transform="translate(682.00,221.78) scale(0.6,1)" font-size="7.8" text-anchor="start" fill="#3c3c3c" stroke="#3c3c3c" stroke-width="0.12" font-weight="normal" >4.0e−10</text>
<line x1="671.10" y1="236.80" x2="672.80" y2="236.80" stroke="#ffffff" stroke-width="0.7"/>
<line x1="678.30" y1="236.80" x2="680.00" y2="236.80" stroke="#ffffff" stroke-width="0.7"/>
<text transform="translate(682.00,239.48) scale(0.6,1)" font-size="7.8" text-anchor="start" fill="#3c3c3c" stroke="#3c3c3c" stroke-width="0.12" font-weight="normal" >8.0e−10</text>
<line x1="671.10" y1="254.60" x2="672.80" y2="254.60" stroke="#ffffff" stroke-width="0.7"/>
<line x1="678.30" y1="254.60" x2="680.00" y2="254.60" stroke="#ffffff" stroke-width="0.7"/>
<text transform="translate(682.00,257.28) scale(0.6,1)" font-size="7.8" text-anchor="start" fill="#3c3c3c" stroke="#3c3c3c" stroke-width="0.12" font-weight="normal" >1.2e−09</text>
<line x1="671.10" y1="272.30" x2="672.80" y2="272.30" stroke="#ffffff" stroke-width="0.7"/>
<line x1="678.30" y1="272.30" x2="680.00" y2="272.30" stroke="#ffffff" stroke-width="0.7"/>
<text transform="translate(682.00,274.98) scale(0.6,1)" font-size="7.8" text-anchor="start" fill="#3c3c3c" stroke="#3c3c3c" stroke-width="0.12" font-weight="normal" >1.6e−09</text>
</svg></body></html>
